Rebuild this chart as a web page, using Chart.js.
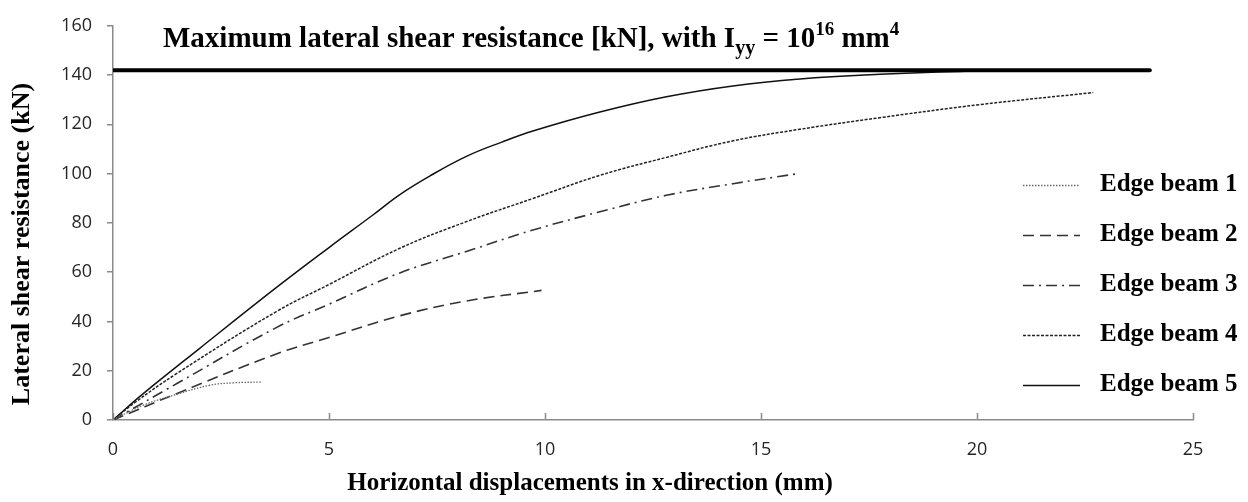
<!DOCTYPE html>
<html>
<head>
<meta charset="utf-8">
<script src="https://cdn.jsdelivr.net/npm/chart.js@4.4.1/dist/chart.umd.min.js"></script>
<style>
  body { margin: 0; background: #fff; }
  #wrap { width: 1248px; height: 502px; }
</style>
</head>
<body>
<div id="wrap"><canvas id="myChart" width="1248" height="502"></canvas></div>
<script>
// data
var maxX = [0, 24];
var maxY = [142, 142];

var beam1X = [0, 0.7, 1.47, 2.24, 2.8, 3.43];
var beam1Y = [0, 6, 10.4, 14.1, 15.1, 15.4];

var beam2X = [0, 1.47, 3.78, 5, 6.64, 8.18, 9.92];
var beam2Y = [0, 10.7, 26.8, 33.5, 42.3, 48.3, 52.6];

var beam3X = [0, 1.5, 3.78, 5, 6.64, 8.18, 9.72, 11.27, 12.81, 14.35, 15.82];
var beam3Y = [0, 15, 37.5, 47, 59.7, 68.4, 77.1, 84.5, 91.2, 95.9, 99.9];

var beam4X = [0, 0.5, 1.47, 3.78, 5, 6.64, 8.18, 9.72, 11.27, 12.81, 14.35, 15.9, 17.75, 20.06, 22.69];
var beam4Y = [0, 7, 18.8, 44, 55, 69.7, 80.5, 89.9, 99.3, 106.6, 113.3, 118, 122.7, 128, 132.9];

var beam5X = [0, 0.7, 2, 3.8, 5, 6, 6.64, 7.33, 8.18, 9, 9.72, 11.27, 12.81, 14.35, 15.9, 17.75, 19.6, 21.5];
var beam5Y = [0, 10.7, 29, 54, 70, 83, 91.5, 99, 107, 112.8, 117.3, 125, 131.2, 135.6, 138.4, 140.3, 141.5, 142.1];

var seriesNames = ["Edge beam 1", "Edge beam 2", "Edge beam 3", "Edge beam 4", "Edge beam 5"];
var xTicks = [0, 5, 10, 15, 20, 25];
var yTicks = [0, 20, 40, 60, 80, 100, 120, 140, 160];

function toPoints(xs, ys) {
    return xs.map(function (x, i) { return { x: x, y: ys[i] }; });
}

var serif = '"Liberation Serif", "Times New Roman", serif';
var axisGray = '#8a8a8a';

// title, axis titles, inner x ticks, legend
var decorations = {
    id: 'decorations',
    afterDraw: function (chart) {
        var ctx = chart.ctx;
        var xs = chart.scales.x, ys = chart.scales.y;
        ctx.save();

        // x tick marks point up into the plot
        ctx.strokeStyle = axisGray;
        ctx.lineWidth = 1.5;
        xTicks.forEach(function (v) {
            var px = Math.round(xs.getPixelForValue(v)) + 0.5;
            ctx.beginPath();
            ctx.moveTo(px, ys.bottom);
            ctx.lineTo(px, ys.bottom - 7);
            ctx.stroke();
        });

        // title with sub/superscripts
        ctx.fillStyle = '#000';
        ctx.textBaseline = 'alphabetic';
        ctx.textAlign = 'left';
        var x = 163, base = 47;
        var parts = [
            ['Maximum lateral shear resistance [kN], with I', 29, 0],
            ['yy', 20, 7],
            [' = 10', 29, 0],
            ['16', 19, -12],
            [' mm', 29, 0],
            ['4', 19, -12]
        ];
        parts.forEach(function (p) {
            ctx.font = 'bold ' + p[1] + 'px ' + serif;
            ctx.fillText(p[0], x, base + p[2]);
            x += ctx.measureText(p[0]).width;
        });

        // axis titles
        ctx.textAlign = 'center';
        ctx.textBaseline = 'middle';
        ctx.font = 'bold 25px ' + serif;
        ctx.fillText('Horizontal displacements in x-direction (mm)', 590, 484);
        ctx.save();
        ctx.font = 'bold 26px ' + serif;
        ctx.translate(22, 244);
        ctx.rotate(-Math.PI / 2);
        ctx.fillText('Lateral shear resistance (kN)', 0, 0);
        ctx.restore();

        // legend
        ctx.textAlign = 'left';
        ctx.font = 'bold 25px ' + serif;
        seriesNames.forEach(function (name, i) {
            var ds = chart.data.datasets[i + 1];
            var y = 185 + i * 50;
            ctx.save();
            ctx.strokeStyle = ds.borderColor;
            ctx.lineWidth = ds.borderWidth;
            ctx.setLineDash(ds.borderDash || []);
            ctx.beginPath();
            ctx.moveTo(1023, y + 0.5);
            ctx.lineTo(1080, y + 0.5);
            ctx.stroke();
            ctx.restore();
            ctx.fillStyle = '#000';
            ctx.fillText(name, 1100, y);
        });
        ctx.restore();
    }
};

var lineDefaults = { pointRadius: 0, showLine: true, fill: false, tension: 0.4 };

var ctx = document.getElementById('myChart').getContext('2d');
var myChart = new Chart(ctx, {
    type: 'scatter',
    data: {
        datasets: [
            Object.assign({ label: 'Maximum', data: toPoints(maxX, maxY), borderColor: '#000', borderWidth: 4, borderCapStyle: 'round' }, lineDefaults),
            Object.assign({ label: seriesNames[0], data: toPoints(beam1X, beam1Y), borderColor: '#6a6a6a', borderWidth: 1.3, borderDash: [1.5, 1.5] }, lineDefaults),
            Object.assign({ label: seriesNames[1], data: toPoints(beam2X, beam2Y), borderColor: '#333', borderWidth: 1.6, borderDash: [11, 6] }, lineDefaults),
            Object.assign({ label: seriesNames[2], data: toPoints(beam3X, beam3Y), borderColor: '#333', borderWidth: 1.6, borderDash: [11, 5, 2, 5] }, lineDefaults),
            Object.assign({ label: seriesNames[3], data: toPoints(beam4X, beam4Y), borderColor: '#222', borderWidth: 1.5, borderDash: [3, 1.5] }, lineDefaults),
            Object.assign({ label: seriesNames[4], data: toPoints(beam5X, beam5Y), borderColor: '#111', borderWidth: 1.5 }, lineDefaults)
        ]
    },
    options: {
        responsive: false,
        animation: false,
        layout: { padding: { left: 0, right: 55, top: 22, bottom: 0 } },
        plugins: { legend: { display: false }, tooltip: { enabled: false } },
        scales: {
            x: {
                type: 'linear',
                min: 0, max: 25,
                afterBuildTicks: function (scale) { scale.ticks = xTicks.map(function (v) { return { value: v }; }); },
                afterFit: function (scale) { scale.height = 82; },
                grid: { drawOnChartArea: false, drawTicks: false },
                border: { color: axisGray, width: 1.5 },
                ticks: { color: '#262626', padding: 19, font: { family: '"Open Sans", sans-serif', size: 18 } }
            },
            y: {
                min: 0, max: 160,
                afterBuildTicks: function (scale) { scale.ticks = yTicks.map(function (v) { return { value: v }; }); },
                afterFit: function (scale) { scale.width = 113; },
                grid: { drawOnChartArea: false, tickLength: 6, color: axisGray, lineWidth: 1.5 },
                border: { color: axisGray, width: 1.5 },
                ticks: { color: '#262626', padding: 15, font: { family: '"Open Sans", sans-serif', size: 18 } }
            }
        }
    },
    plugins: [decorations]
});
</script>
</body>
</html>
